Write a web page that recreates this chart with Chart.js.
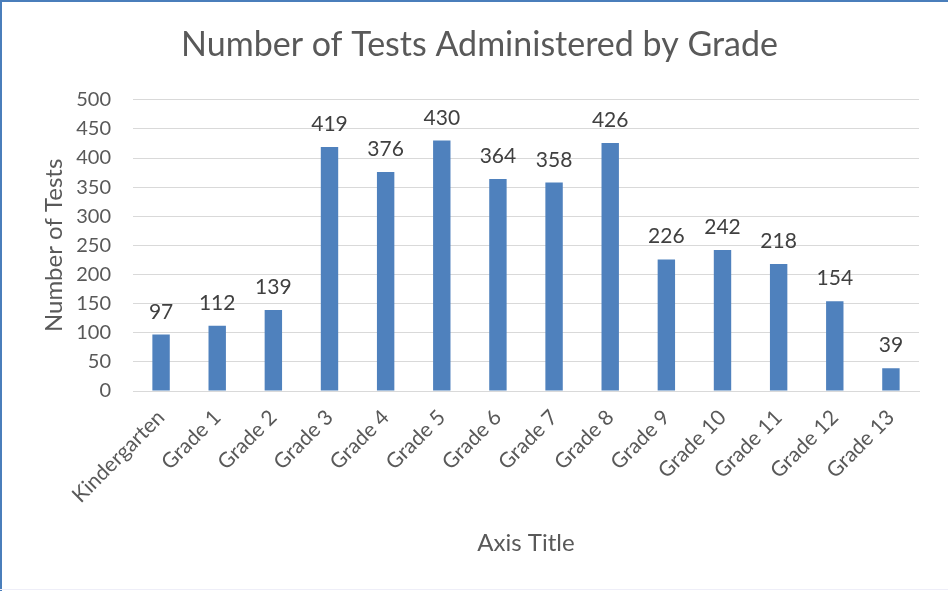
<!DOCTYPE html>
<html>
<head>
<meta charset="utf-8">
<script src="https://cdn.jsdelivr.net/npm/chart.js@4/dist/chart.umd.min.js"></script>
<style>
  body { margin: 0; background: #fff; }
  #wrap { position: relative; width: 948px; height: 591px; }
  #wrap:before { content: ''; position: absolute; left: 0; top: 0; width: 2px; height: 591px; background: #4a7ebb; }
  #wrap:after { content: ''; position: absolute; left: 0; top: 0; width: 948px; height: 2px; background: #4a7ebb; }
  #bottomLine { position: absolute; left: 0; top: 589px; width: 948px; height: 1px; background: #eeeef8; }
</style>
</head>
<body>
<div id="wrap">
  <canvas id="chart" width="948" height="591"></canvas>
  <div id="bottomLine"></div>
</div>
<script>
// chart data
const grades = ['Kindergarten', 'Grade 1', 'Grade 2', 'Grade 3', 'Grade 4', 'Grade 5', 'Grade 6',
  'Grade 7', 'Grade 8', 'Grade 9', 'Grade 10', 'Grade 11', 'Grade 12', 'Grade 13'];
const testCounts = [97, 112, 139, 419, 376, 430, 364, 358, 426, 226, 242, 218, 154, 39];
const yTicks = [0, 50, 100, 150, 200, 250, 300, 350, 400, 450, 500];

const FONT = 'Lato, "Open Sans", sans-serif';
const TEXT = '#595959';

// draws value labels above each bar
const barLabels = {
  id: 'barLabels',
  afterDatasetsDraw(chart) {
    const ctx = chart.ctx;
    const meta = chart.getDatasetMeta(0);
    ctx.save();
    ctx.font = '21px ' + FONT;
    ctx.fillStyle = '#404040';
    ctx.textAlign = 'center';
    ctx.textBaseline = 'alphabetic';
    meta.data.forEach((bar, i) => {
      ctx.fillText(chart.data.datasets[0].data[i], bar.x, bar.y - 16);
    });
    ctx.restore();
  }
};

new Chart(document.getElementById('chart'), {
  type: 'bar',
  data: {
    labels: grades,
    datasets: [{
      data: testCounts,
      backgroundColor: '#4f81bd',
      borderWidth: 0,
      categoryPercentage: 1,
      barPercentage: 0.31
    }]
  },
  options: {
    responsive: false,
    animation: false,
    layout: { padding: { left: 40, right: 29, top: 0, bottom: 33 } },
    plugins: {
      legend: { display: false },
      tooltip: { enabled: false },
      title: {
        display: true,
        text: 'Number of Tests Administered by Grade',
        color: TEXT,
        font: { family: FONT, size: 34, weight: 'normal' },
        padding: { top: 25, bottom: 34 }
      }
    },
    scales: {
      x: {
        grid: { display: false },
        border: { color: '#d9d9d9' },
        ticks: {
          color: TEXT,
          font: { family: FONT, size: 21 },
          minRotation: 45,
          maxRotation: 45,
          padding: 6
        },
        title: {
          display: true,
          text: 'Axis Title',
          color: TEXT,
          font: { family: FONT, size: 24 },
          padding: 0
        },
        afterFit(scale) { scale.height = 167; }
      },
      y: {
        min: 0,
        max: 500,
        afterBuildTicks(scale) { scale.ticks = yTicks.map(v => ({ value: v })); },
        grid: { color: '#d9d9d9', drawTicks: false },
        border: { display: false },
        ticks: {
          color: TEXT,
          font: { family: FONT, size: 20 },
          padding: 22
        },
        title: {
          display: true,
          text: 'Number of Tests',
          color: TEXT,
          font: { family: FONT, size: 24 },
          padding: 0
        },
        afterFit(scale) { scale.width = 93; }
      }
    }
  },
  plugins: [barLabels]
});
</script>
</body>
</html>
